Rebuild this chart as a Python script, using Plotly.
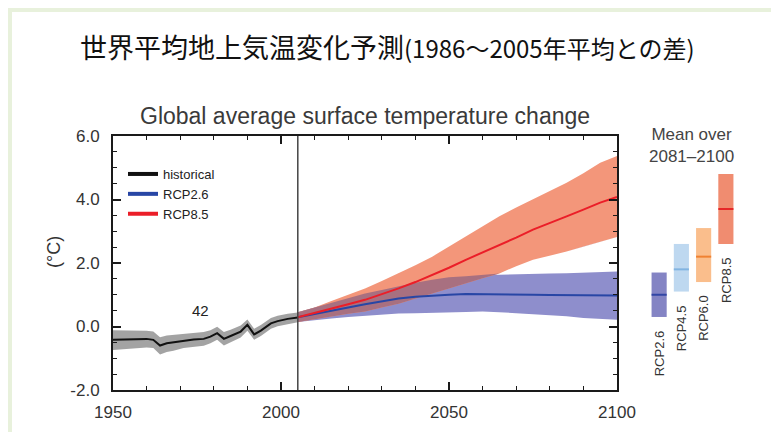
import plotly.graph_objects as go

# ---------------- data ----------------
hist_years = [1950, 1954, 1958, 1960, 1962, 1964, 1966, 1968, 1971, 1974, 1977, 1979, 1981, 1983, 1985, 1988, 1990, 1992, 1994, 1997, 1999, 2002, 2005]
hist_mean = [-0.42, -0.41, -0.40, -0.39, -0.42, -0.60, -0.53, -0.50, -0.44, -0.41, -0.39, -0.32, -0.21, -0.39, -0.30, -0.16, 0.05, -0.25, -0.13, 0.10, 0.17, 0.24, 0.28]
hist_upper = [-0.12, -0.12, -0.13, -0.13, -0.16, -0.34, -0.28, -0.26, -0.21, -0.19, -0.17, -0.12, -0.01, -0.17, -0.10, 0.03, 0.22, -0.07, 0.05, 0.27, 0.34, 0.40, 0.44]
hist_lower = [-0.74, -0.72, -0.68, -0.66, -0.68, -0.88, -0.80, -0.76, -0.68, -0.64, -0.61, -0.53, -0.42, -0.60, -0.50, -0.35, -0.13, -0.42, -0.30, -0.07, 0.01, 0.08, 0.13]

proj_years = [2005, 2010, 2015, 2020, 2025, 2030, 2035, 2040, 2045, 2050, 2055, 2060, 2065, 2070, 2075, 2080, 2085, 2090, 2095, 2100]
rcp85_mean = [0.29, 0.42, 0.56, 0.70, 0.84, 1.01, 1.20, 1.40, 1.62, 1.85, 2.10, 2.33, 2.57, 2.80, 3.05, 3.27, 3.47, 3.68, 3.90, 4.08]
rcp85_upper = [0.45, 0.60, 0.80, 1.00, 1.20, 1.43, 1.67, 1.93, 2.20, 2.52, 2.85, 3.17, 3.47, 3.75, 4.00, 4.27, 4.53, 4.83, 5.16, 5.37]
rcp85_lower = [0.14, 0.22, 0.32, 0.40, 0.47, 0.60, 0.72, 0.88, 1.04, 1.20, 1.35, 1.52, 1.67, 1.90, 2.10, 2.23, 2.36, 2.52, 2.68, 2.82]
rcp26_mean = [0.29, 0.40, 0.50, 0.60, 0.70, 0.80, 0.88, 0.94, 0.98, 1.00, 1.02, 1.02, 1.01, 1.02, 1.00, 0.99, 0.99, 0.98, 0.99, 0.98]
rcp26_upper = [0.45, 0.60, 0.75, 0.90, 1.04, 1.15, 1.27, 1.38, 1.47, 1.55, 1.58, 1.62, 1.63, 1.65, 1.66, 1.67, 1.68, 1.69, 1.71, 1.73]
rcp26_lower = [0.14, 0.20, 0.25, 0.30, 0.33, 0.38, 0.41, 0.42, 0.43, 0.44, 0.46, 0.47, 0.45, 0.42, 0.38, 0.36, 0.32, 0.27, 0.23, 0.21]

split_year = 2005
n_models_label = "42"

mean_scenarios = ["RCP2.6", "RCP4.5", "RCP6.0", "RCP8.5"]
mean_values = [1.0, 1.8, 2.2, 3.7]
mean_low = [0.3, 1.1, 1.4, 2.6]
mean_high = [1.7, 2.6, 3.1, 4.8]

y_tickvals = [-2, 0, 2, 4, 6]
y_ticktext = ["-2.0", "0.0", "2.0", "4.0", "6.0"]
x_tickvals = [1950, 2000, 2050, 2100]

title_jp_main = "世界平均地上気温変化予測"
title_jp_sub = "(1986～2005年平均との差)"
title_en = "Global average surface temperature change"
y_title = "(°C)"
mean_title = "Mean over<br>2081–2100"

# ---------------- styling ----------------
W, H = 771, 432
def px(x):
    return x / W
def py(y):
    return 1 - y / H

FONT = "Liberation Sans, Arial, sans-serif"
TXT = "#333333"

c_hist_band = "rgba(128,128,128,0.72)"
c_hist_line = "#111111"
c_26_band = "rgb(142,142,204)"
c_85_band = "rgb(243,150,122)"
c_overlap = "rgb(168,112,128)"
c_26_line = "rgb(40,70,165)"
c_85_line = "rgb(235,30,40)"
bar_colors = ["rgb(132,132,196)", "rgb(190,216,240)", "rgb(250,190,140)", "rgb(240,140,112)"]
mean_line_colors = ["rgb(50,70,165)", "rgb(130,180,225)", "rgb(240,130,50)", "rgb(230,40,40)"]

fig = go.Figure()

def band(xs, lo, hi, color):
    return go.Scatter(x=list(xs) + list(xs)[::-1], y=list(hi) + list(lo)[::-1],
                      fill="toself", fillcolor=color, line=dict(width=0),
                      mode="lines", showlegend=False, hoverinfo="skip")

fig.add_trace(band(hist_years, hist_lower, hist_upper, c_hist_band))
fig.add_trace(band(proj_years, rcp26_lower, rcp26_upper, c_26_band))
fig.add_trace(band(proj_years, rcp85_lower, rcp85_upper, c_85_band))
ov_lo = [max(a, b) for a, b in zip(rcp85_lower, rcp26_lower)]
ov_hi = [min(a, b) for a, b in zip(rcp85_upper, rcp26_upper)]
ov_hi = [max(h, l) for h, l in zip(ov_hi, ov_lo)]
fig.add_trace(band(proj_years, ov_lo, ov_hi, c_overlap))

fig.add_trace(go.Scatter(x=hist_years, y=hist_mean, mode="lines", line=dict(color=c_hist_line, width=2), showlegend=False))
fig.add_trace(go.Scatter(x=proj_years, y=rcp26_mean, mode="lines", line=dict(color=c_26_line, width=2), showlegend=False))
fig.add_trace(go.Scatter(x=proj_years, y=rcp85_mean, mode="lines", line=dict(color=c_85_line, width=2), showlegend=False))

# legend entries
for name, col in [("historical", c_hist_line), ("RCP2.6", c_26_line), ("RCP8.5", c_85_line)]:
    fig.add_trace(go.Scatter(x=[None], y=[None], mode="lines", name=name, line=dict(color=col, width=4)))

# right panel: mean over 2081-2100
idx = list(range(len(mean_scenarios)))
fig.add_trace(go.Bar(x=idx, y=[h - l for h, l in zip(mean_high, mean_low)], base=mean_low,
                     marker=dict(color=bar_colors, line=dict(width=0)), width=0.68,
                     xaxis="x2", yaxis="y2", showlegend=False))
for i, m in enumerate(mean_values):
    fig.add_trace(go.Scatter(x=[i - 0.34, i + 0.34], y=[m, m], mode="lines",
                             line=dict(color=mean_line_colors[i], width=2),
                             xaxis="x2", yaxis="y2", showlegend=False))

annotations = []
for i, (s, l) in enumerate(zip(mean_scenarios, mean_low)):
    annotations.append(dict(x=i, y=l - 1.14, xref="x2", yref="y2", text=s, textangle=-90,
                            showarrow=False, xanchor="center", yanchor="middle",
                            font=dict(family=FONT, size=13, color=TXT)))

annotations += [
    dict(x=px(78), y=py(47), xref="paper", yref="paper", xanchor="left", yanchor="middle",
         showarrow=False,
         text=title_jp_main + '<span style="font-size:24px">' + title_jp_sub + "</span>",
         font=dict(family="Noto Sans CJK JP", size=27, color="#111111")),
    dict(x=px(365), y=py(116), xref="paper", yref="paper", xanchor="center", yanchor="middle",
         showarrow=False, text=title_en, font=dict(family=FONT, size=23, color="#3a3a3a")),
    dict(x=px(54), y=py(252), xref="paper", yref="paper", xanchor="center", yanchor="middle",
         showarrow=False, text=y_title, textangle=-90, font=dict(family=FONT, size=18, color=TXT)),
    dict(x=px(691), y=py(145), xref="paper", yref="paper", xanchor="center", yanchor="middle",
         showarrow=False, text=mean_title, font=dict(family=FONT, size=17, color="#444444")),
    dict(x=1976, y=0.5, xref="x", yref="y", showarrow=False, text=n_models_label,
         font=dict(family=FONT, size=15, color="#222222")),
]

axis_common = dict(showline=True, linecolor="#1a1a1a", linewidth=2, mirror="ticks",
                   ticks="inside", ticklen=8, tickwidth=1.5, tickcolor="#1a1a1a",
                   showgrid=False, zeroline=False, automargin=False,
                   tickfont=dict(family=FONT, size=17, color=TXT))

frame_color = "#e8f1dc"
fig.update_layout(
    template="none",
    width=W, height=H, margin=dict(l=0, r=0, t=0, b=0, pad=0, autoexpand=False),
    paper_bgcolor="white", plot_bgcolor="white",
    showlegend=True,
    legend=dict(x=px(123), y=py(159), xanchor="left", yanchor="top", bgcolor="rgba(0,0,0,0)",
                font=dict(family=FONT, size=13, color="#222222"), itemwidth=30, tracegroupgap=0),
    xaxis=dict(domain=[px(113), px(617)], range=[1950, 2100], tickvals=x_tickvals,
               minor=dict(ticks="inside", ticklen=4, dtick=10, tickcolor="#1a1a1a", tickwidth=1),
               ticklabelstandoff=6, anchor="y", **axis_common),
    yaxis=dict(domain=[py(390), py(136)], range=[-2, 6], tickvals=y_tickvals, ticktext=y_ticktext,
               minor=dict(ticks="inside", ticklen=4, dtick=0.5, tickcolor="#1a1a1a", tickwidth=1),
               ticklabelstandoff=8, anchor="x", **axis_common),
    xaxis2=dict(domain=[px(648), px(737)], range=[-0.5, 3.5], visible=False, anchor="y2", automargin=False),
    yaxis2=dict(domain=[py(390), py(136)], range=[-2, 6], visible=False, anchor="x2", automargin=False),
    annotations=annotations,
    shapes=[
        dict(type="line", xref="x", yref="y domain", x0=split_year, x1=split_year, y0=0, y1=1,
             line=dict(color="#444444", width=1.5)),
        dict(type="line", xref="paper", yref="paper", x0=px(8), x1=1, y0=py(10), y1=py(10),
             line=dict(color=frame_color, width=4), layer="below"),
        dict(type="line", xref="paper", yref="paper", x0=px(10), x1=px(10), y0=0, y1=py(8),
             line=dict(color=frame_color, width=4), layer="below"),
    ],
)

fig.write_html("out.html", config={"displayModeBar": False},
               post_script="document.body.style.margin='0';")
